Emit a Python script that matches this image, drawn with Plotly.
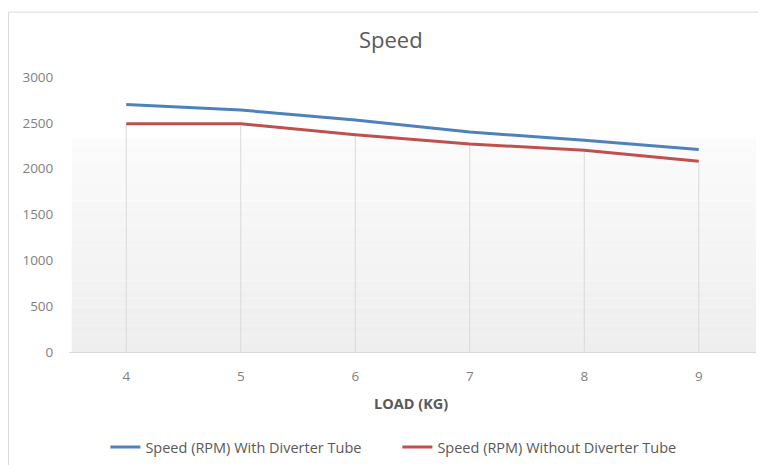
import plotly.graph_objects as go

loads = [4, 5, 6, 7, 8, 9]
speed_with = [2700, 2640, 2530, 2400, 2310, 2210]
speed_without = [2490, 2490, 2370, 2270, 2200, 2080]
series_names = ["Speed (RPM) With Diverter Tube", "Speed (RPM) Without Diverter Tube"]
y_ticks = [0, 500, 1000, 1500, 2000, 2500, 3000]

FONT = "Open Sans"
GRAY = "#7f7f7f"

fig = go.Figure()

# drop lines from the lower series down to the axis
dx, dy = [], []
for x, y in zip(loads, speed_without):
    dx += [x, x, None]
    dy += [0, y, None]
fig.add_trace(go.Scatter(x=dx, y=dy, mode="lines", line=dict(color="#d9d9d9", width=1),
                         hoverinfo="skip", showlegend=False))

fig.add_trace(go.Scatter(x=loads, y=speed_with, mode="lines", name=series_names[0],
                         line=dict(color="#4f81bd", width=3)))
fig.add_trace(go.Scatter(x=loads, y=speed_without, mode="lines", name=series_names[1],
                         line=dict(color="#c0504d", width=3)))

shapes = []
# gradient background in lower part of plot area
n = 24
top = 2330
for i in range(n):
    t = i / (n - 1)
    c = int(round(0xee + (0xfb - 0xee) * t))
    shapes.append(dict(type="rect", xref="paper", yref="y", x0=0.004, x1=1.0,
                       y0=top * i / n, y1=top * (i + 1) / n,
                       fillcolor=f"rgb({c},{c},{c})", line=dict(width=0), layer="below"))
# chart outer border
shapes.append(dict(type="rect", xref="paper", yref="paper", x0=-0.088, x1=1.0102,
                   y0=-0.45, y1=1.236, line=dict(color="#d9d9d9", width=1),
                   fillcolor="rgba(0,0,0,0)", layer="below"))

fig.update_layout(
    width=758, height=457,
    margin=dict(l=61, r=10, t=69, b=113, autoexpand=False),
    paper_bgcolor="white", plot_bgcolor="white",
    font=dict(family=FONT, color=GRAY, size=13),
    title=dict(text="Speed", x=0.505, xanchor="center", y=0.93, yanchor="middle",
               font=dict(family=FONT, size=22, color="#595959")),
    shapes=shapes,
    showlegend=True,
    legend=dict(orientation="h", xref="paper", x=0.478, xanchor="center",
                yref="container", y=1 - 439 / 457, yanchor="middle",
                font=dict(family=FONT, size=14.5, color="#595959"),
                entrywidth=247, entrywidthmode="pixels",
                bgcolor="rgba(0,0,0,0)"),
    annotations=[dict(text="<b>LOAD (KG)</b>", xref="paper", yref="paper", x=0.498, y=-0.1855,
                      yanchor="middle", showarrow=False,
                      font=dict(family=FONT, size=14.5, color="#595959"))],
)

fig.update_xaxes(range=[3.5, 9.5], tickvals=loads, showgrid=False, zeroline=False,
                 showline=True, linecolor="#d9d9d9", linewidth=1,
                 ticks="outside", ticklen=12, tickcolor="rgba(0,0,0,0)",
                 tickfont=dict(family=FONT, size=13.5, color=GRAY))
fig.update_yaxes(range=[0, 3000], tickvals=y_ticks, showgrid=False, zeroline=False,
                 showline=False, ticks="outside", ticklen=12, tickcolor="rgba(0,0,0,0)",
                 tickfont=dict(family=FONT, size=13.5, color=GRAY))

fig.write_html("out.html")
